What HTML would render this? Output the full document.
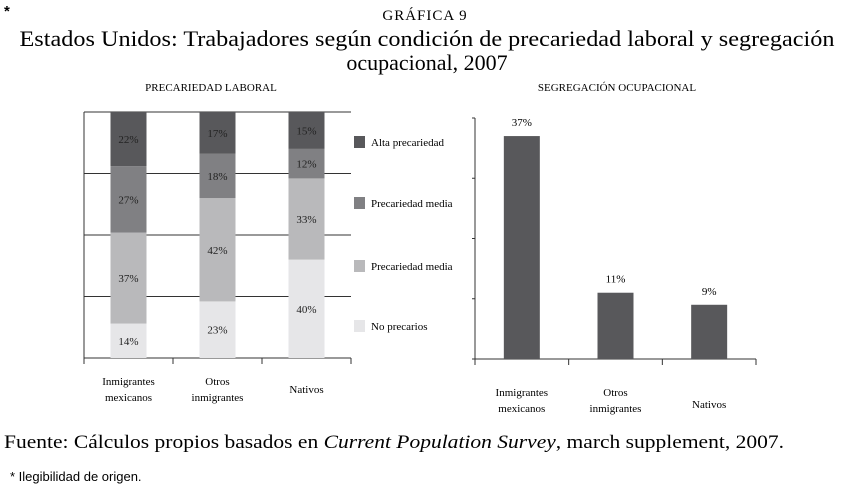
<!DOCTYPE html>
<html><head><meta charset="utf-8">
<style>
body{margin:0;background:#fff;}
svg{display:block;font-family:"Liberation Serif",serif;}
</style></head>
<body>
<svg id="c" width="845" height="497" viewBox="0 0 845 497" xmlns="http://www.w3.org/2000/svg">
<text x="4" y="16" font-family="Liberation Sans" font-weight="bold" font-size="15">*</text>
<text x="425" y="20" text-anchor="middle" font-size="15" letter-spacing="1">GRÁFICA 9</text>
<text x="427" y="46" text-anchor="middle" font-size="22" textLength="815" lengthAdjust="spacingAndGlyphs">Estados Unidos: Trabajadores según condición de precariedad laboral y segregación</text>
<text x="427" y="70" text-anchor="middle" font-size="22">ocupacional, 2007</text>
<text x="211" y="91" text-anchor="middle" font-size="11">PRECARIEDAD LABORAL</text>
<text x="617" y="91" text-anchor="middle" font-size="11">SEGREGACIÓN OCUPACIONAL</text>
<g id="left"></g>
<g id="right"></g>
<text x="4" y="448" font-size="19" textLength="780" lengthAdjust="spacingAndGlyphs">Fuente: Cálculos propios basados en <tspan font-style="italic">Current Population Survey</tspan>, march supplement, 2007.</text>
<text x="10" y="481" font-family="Liberation Sans" font-size="13">* Ilegibilidad de origen.</text>
</svg>
<script>
const categories=["Inmigrantes|mexicanos","Otros|inmigrantes","Nativos"];
const noPrecarios=[14,23,40];
const precMediaBaja=[37,42,33];
const precMediaAlta=[27,18,12];
const altaPrecariedad=[22,17,15];
const segregacion=[37,11,9];
const leftTicks=[0,25,50,75,100];
const rightTicks=[0,10,20,30,40];
const seriesNames=["No precarios","Precariedad media","Precariedad media","Alta precariedad"];

const NS="http://www.w3.org/2000/svg";
function mk(p,t,a){const e=document.createElementNS(NS,t);for(const k in a)e.setAttribute(k,a[k]);p.appendChild(e);return e;}
const colors=["#e6e6e8","#b9b9bb","#808083","#58585b"];

// left chart
const L=document.getElementById('left');
const lx0=84,lx1=351,ly0=358,ly1=112;
const ly=v=>ly0-(v/100)*(ly0-ly1);
const lband=(lx1-lx0)/categories.length;
const lxc=i=>lx0+lband*(i+0.5);
leftTicks.forEach(t=>{
  const g=mk(L,'line',{x1:lx0,x2:lx1,y1:ly(t),y2:ly(t),stroke:'#333','stroke-width':1});
  
  
});
const la=mk(L,'line',{x1:lx0,x2:lx0,y1:ly1,y2:ly0+5,stroke:'#333'});


for(let i=0;i<=categories.length;i++){
  const tk=mk(L,'line',{x1:lx0+lband*i,x2:lx0+lband*i,y1:ly0,y2:ly0+6,stroke:'#333'});
  
  
}
const series=[noPrecarios,precMediaBaja,precMediaAlta,altaPrecariedad];
categories.forEach((c,i)=>{
  let acc=0;
  series.forEach((s,k)=>{
    const v=s[i];
    const r=mk(L,'rect',{x:lxc(i)-18,y:ly(acc+v),width:36,height:ly(acc)-ly(acc+v),fill:colors[k]});
    
    
    const t=mk(L,'text',{x:lxc(i),y:(ly(acc)+ly(acc+v))/2+4,'text-anchor':'middle','font-size':11,fill:'#222'});
    t.textContent=v+'%';
    
    
    acc+=v;
  });
  c.split('|').forEach((ln,j)=>{
    const t=mk(L,'text',{x:lxc(i),y:(c.includes('|')?385:393)+j*16,'text-anchor':'middle','font-size':11});
    t.textContent=ln;
    
    
  });
});
const legY=[326,266,203,142];
seriesNames.forEach((n,k)=>{
  const r=mk(L,'rect',{x:354,y:legY[k]-6,width:11,height:12,fill:colors[k]});
  
  
  const t=mk(L,'text',{x:371,y:legY[k]+4,'font-size':11});
  t.textContent=n;
  
  
});

// right chart
const R=document.getElementById('right');
const rx0=475,rx1=756,ry0=359,ry1=118;
const ry=v=>ry0-(v/40)*(ry0-ry1);
const rband=(rx1-rx0)/categories.length;
const rxc=i=>rx0+rband*(i+0.5);
const ra=mk(R,'line',{x1:rx0,x2:rx0,y1:ry1,y2:ry0,stroke:'#333'});


const rb=mk(R,'line',{x1:rx0-3,x2:rx1,y1:ry0,y2:ry0,stroke:'#333'});


rightTicks.forEach(t=>{
  const l=mk(R,'line',{x1:rx0-3,x2:rx0,y1:ry(t),y2:ry(t),stroke:'#333'});
  
  
});
for(let i=0;i<=categories.length;i++){
  const tk=mk(R,'line',{x1:rx0+rband*i,x2:rx0+rband*i,y1:ry0,y2:ry0+6,stroke:'#333'});
  
  
}
categories.forEach((c,i)=>{
  const v=segregacion[i];
  const r=mk(R,'rect',{x:rxc(i)-18,y:ry(v),width:36,height:ry0-ry(v),fill:'#58585b'});
  
  
  const t=mk(R,'text',{x:rxc(i),y:ry(v)-10,'text-anchor':'middle','font-size':11});
  t.textContent=v+'%';
  
  
  c.split('|').forEach((ln,j)=>{
    const tt=mk(R,'text',{x:rxc(i),y:(c.includes('|')?396:408)+j*16,'text-anchor':'middle','font-size':11});
    tt.textContent=ln;
    
    
  });
});
</script>
</body></html>
